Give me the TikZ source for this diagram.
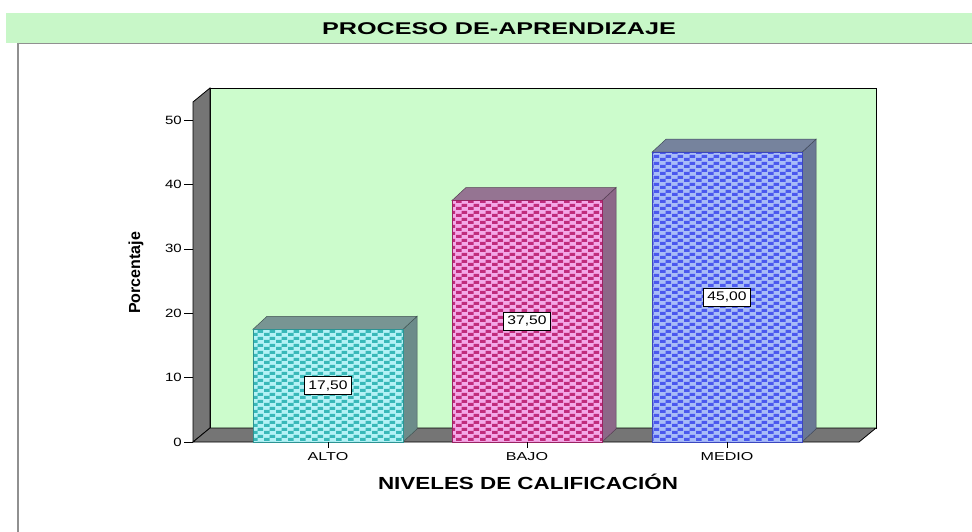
\documentclass[tikz,border=0pt]{standalone}
\usepackage{fontspec}
\setmainfont{Liberation Sans}
\usepackage{graphicx}
\usetikzlibrary{patterns}
\pgfdeclarepatternformonly{chk}{\pgfqpoint{0pt}{0pt}}{\pgfqpoint{12pt}{7pt}}{\pgfqpoint{12pt}{7pt}}{%
 \pgfpathrectangle{\pgfqpoint{0pt}{0pt}}{\pgfqpoint{6pt}{3.5pt}}%
 \pgfpathrectangle{\pgfqpoint{6pt}{3.5pt}}{\pgfqpoint{6pt}{3.5pt}}%
 \pgfusepath{fill}}
\definecolor{bandgreen}{HTML}{C8F7C8}
\definecolor{wallgreen}{HTML}{CCFCCC}
\definecolor{wallgray}{HTML}{757575}
\definecolor{framegray}{HTML}{909090}
\definecolor{altoD}{HTML}{38B8B8}
\definecolor{altoL}{HTML}{B4F2F6}
\definecolor{altoT}{HTML}{6C8C8A}
\definecolor{bajoD}{HTML}{C02C7C}
\definecolor{bajoL}{HTML}{F4A8E8}
\definecolor{bajoT}{HTML}{8C6888}
\definecolor{medioD}{HTML}{4A58EE}
\definecolor{medioL}{HTML}{A8BCF8}
\definecolor{medioT}{HTML}{6A7894}
\newcommand{\wx}[2]{\scalebox{#1}[1]{#2}}
\begin{document}
\begin{tikzpicture}[x=1pt,y=-1pt,
  titlelab/.style={font=\bfseries\fontsize{17}{19}\selectfont, inner sep=0pt},
  axtitle/.style={font=\bfseries\fontsize{17.5}{19}\selectfont, inner sep=0pt},
  catlab/.style={font=\fontsize{11.5}{12}\selectfont, inner sep=0pt},
  ticklab/.style={font=\fontsize{12}{13}\selectfont, inner sep=0pt, anchor=east},
  vlab/.style={draw=black, fill=white, line width=0.8pt, font=\fontsize{12.5}{13}\selectfont,
     minimum width=47pt, minimum height=18pt, inner sep=0pt},
  wallline/.style={draw=black, line width=0.8pt}]
\useasboundingbox (0,0) rectangle (972,532);
\fill[white] (0,0) rectangle (972,532);
% title band
\fill[bandgreen] (6,13) rectangle (972,43);
\draw[framegray, line width=0.8pt] (18,43) -- (972,43);
\draw[framegray, line width=1.6pt] (18,43) -- (18,532);
\node[titlelab] (title) at (499,29) {\wx{1.48}{PROCESO DE-APRENDIZAJE}};
% 3D walls
\filldraw[fill=wallgreen, wallline] (210,88) rectangle (876,428);
\filldraw[fill=wallgray, wallline] (193,102) -- (210,88) -- (210,428) -- (193,442) -- cycle;
\filldraw[fill=wallgray, wallline] (193,442) -- (210,428) -- (876,428) -- (859,442) -- cycle;
% y axis ticks
\foreach \v in {0,10,...,50}{
  \pgfmathsetmacro\yy{442-6.44*\v}
  \draw[black, line width=0.6pt] (184,\yy) -- (193,\yy);
  \node[ticklab] (t\v) at (182,\yy) {\wx{1.25}{\v}};
}
\node[font=\bfseries\fontsize{16}{17}\selectfont, rotate=90, inner sep=0pt] (ylab) at (136,273) {Porcentaje};
% bars
\foreach \xl/\v/\cD/\cL/\cT/\lab/\cat/\nm in {253/17.5/altoD/altoL/altoT/{17,50}/ALTO/alto,
   452/37.5/bajoD/bajoL/bajoT/{37,50}/BAJO/bajo,
   652/45/medioD/medioL/medioT/{45,00}/MEDIO/medio}{
  \pgfmathsetmacro\yt{442-6.44*\v}
  \pgfmathsetmacro\xr{\xl+150}
  \pgfmathsetmacro\xc{\xl+75}
  \pgfmathsetmacro\ym{(\yt+442)/2}
  \filldraw[fill=\cT, draw=\cT!60!black, line width=0.5pt] (\xr,\yt) -- ({\xr+14},{\yt-13}) -- ({\xr+14},429) -- (\xr,442) -- cycle;
  \filldraw[fill=\cT!92!white, draw=\cT!60!black, line width=0.5pt] (\xl,\yt) -- ({\xl+14},{\yt-13}) -- ({\xr+14},{\yt-13}) -- (\xr,\yt) -- cycle;
  \fill[\cL] (\xl,\yt) rectangle (\xr,442);
  \fill[pattern=chk, pattern color=\cD] (\xl,\yt) rectangle (\xr,442);
  \draw[\cD!80!black, line width=0.6pt] (\xl,\yt) rectangle (\xr,442);
  \node[vlab] (v\nm) at (\xc,\ym) {\wx{1.25}{\lab}};
  \draw[black, line width=0.6pt] (\xc,442) -- (\xc,448);
  \node[catlab] (c\nm) at (\xc,457) {\wx{1.4}{\cat}};
}
\node[axtitle] (xlab) at (528,482) {\wx{1.28}{NIVELES DE CALIFICACIÓN}};
\end{tikzpicture}
\end{document}
